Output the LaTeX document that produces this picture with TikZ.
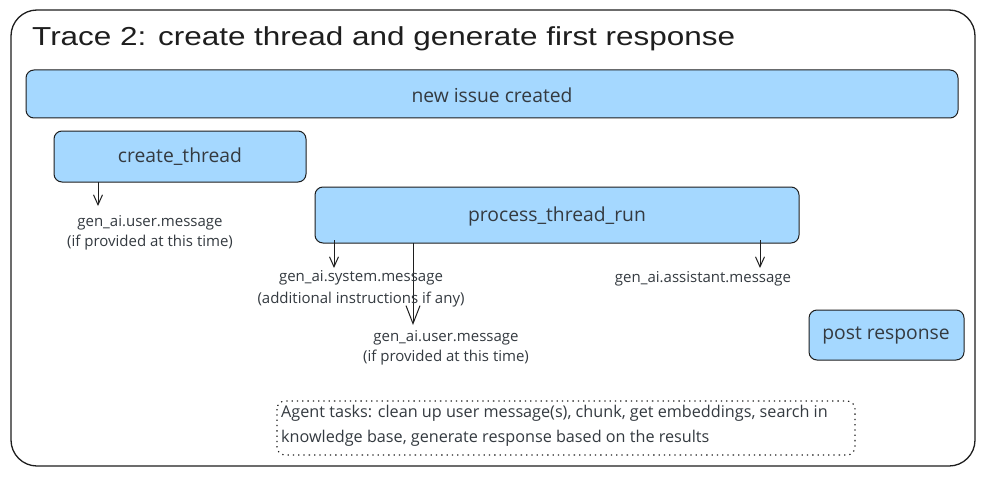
\documentclass[tikz,border=0pt]{standalone}
\usepackage{fontspec}
\setmainfont{Open Sans}
\newfontfamily\titlefont[FakeStretch=1.21]{Liberation Sans}
\usetikzlibrary{arrows.meta}
\definecolor{boxfill}{HTML}{A5D8FF}
\definecolor{ink}{HTML}{1E1E1E}
\definecolor{txt}{HTML}{343A40}
\tikzset{
  bluebox/.style={draw=ink, fill=boxfill, line width=1pt, rounded corners=8pt},
  boxtext/.style={text=txt, font=\fontsize{19.3}{22}\selectfont, inner sep=0pt},
  lbl/.style={text=txt, font=\fontsize{15}{20}\selectfont, align=center, inner sep=0pt},
  arr/.style={draw=ink, line width=1pt, -{Straight Barb[length=10pt,width=9pt]}},
  longarr/.style={draw=ink, line width=1pt, -{Straight Barb[length=18pt,width=14pt]}},
}
\begin{document}
\begin{tikzpicture}[x=1pt,y=-1pt]
\useasboundingbox (0,0) rectangle (984,476);
\fill[white] (0,0) rectangle (984,476);
% frame
\draw[ink, line width=1.3pt, rounded corners=26pt] (11,10) rectangle (975,466);
\node[anchor=west, text=ink, inner sep=0pt, font=\titlefont\fontsize{26}{30}\selectfont] (title) at (32,39) {Trace 2: create thread and generate first response};

% boxes
\path[bluebox] (26,70) rectangle (958,118);
\node[boxtext] (nic) at (492,95) {new issue created};

\path[bluebox] (54,131) rectangle (306,182);
\node[boxtext] (ct) at (180,157) {create\_thread};

\path[bluebox] (315,187) rectangle (799,243);
\node[boxtext] (ptr) at (557,216) {process\_thread\_run};

\path[bluebox] (809,310) rectangle (964,360);
\node[boxtext] (pr) at (886,335) {post response};

% coordinates for arrows
\coordinate (a1s) at (98,182); \coordinate (a1e) at (98,206);
\coordinate (a2s) at (334,240); \coordinate (a2e) at (334,268);
\coordinate (a3s) at (413,243); \coordinate (a3e) at (413,325);
\coordinate (a4s) at (760,240); \coordinate (a4e) at (760,268);
\draw[arr] (a1s) -- (a1e);
\draw[arr] (a2s) -- (a2e);
\draw[longarr] (a3s) -- (a3e);
\draw[arr] (a4s) -- (a4e);

% labels
\node[lbl] (u1) at (150,233) {gen\_ai.user.message\\(if provided at this time)};
\node[lbl] (sys) at (361,289) {gen\_ai.system.message\\[2pt](additional instructions if any)};
\node[lbl] (asst) at (703,279) {gen\_ai.assistant.message};
\node[lbl] (u2) at (446,348) {gen\_ai.user.message\\(if provided at this time)};

% dotted note
\draw[ink, line width=1.1pt, dash pattern=on 1.3pt off 4pt, rounded corners=8pt] (277,401) rectangle (855,455);
\node[lbl, align=left, anchor=west, font=\fontsize{16.2}{25}\selectfont] (note) at (281,426) {Agent tasks: clean up user message(s), chunk, get embeddings, search in\\knowledge base, generate response based on the results};
\end{tikzpicture}
\end{document}
